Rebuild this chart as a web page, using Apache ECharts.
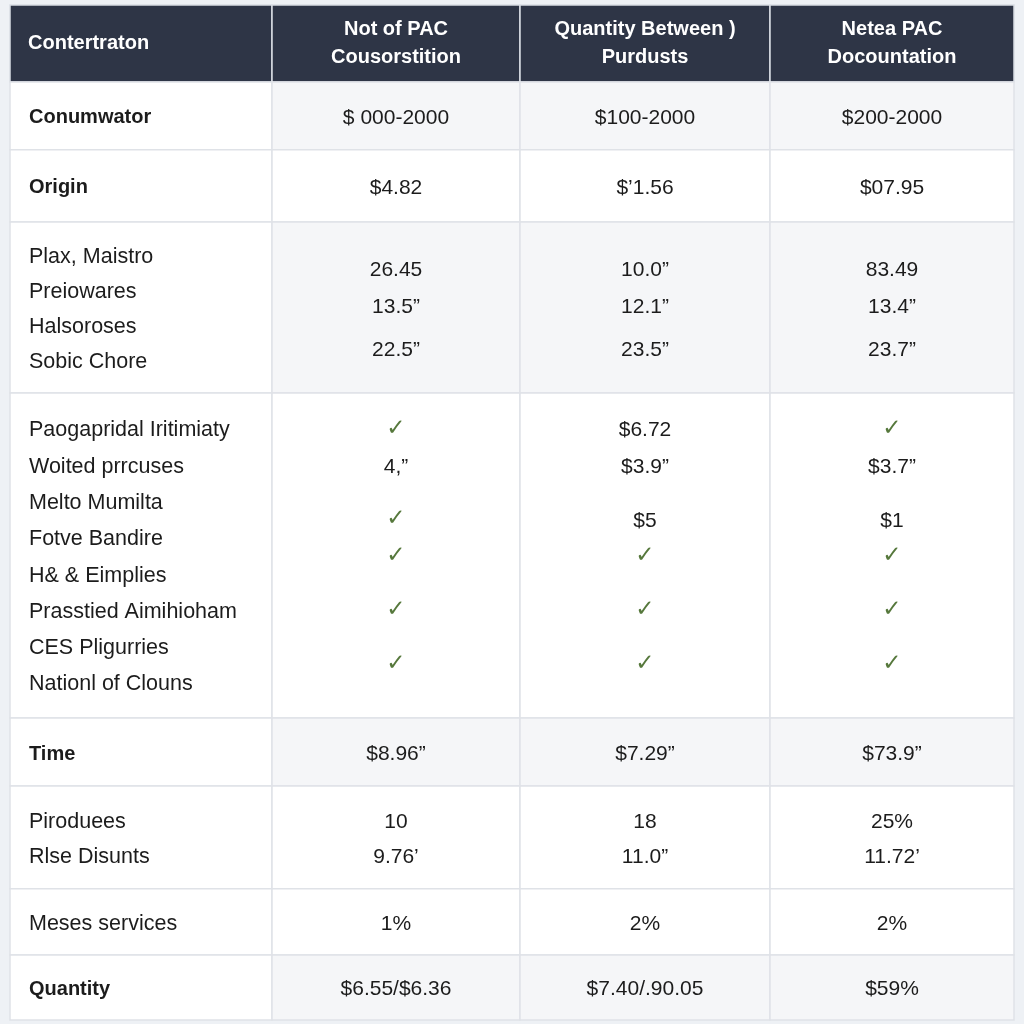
<!DOCTYPE html>
<html><head><meta charset="utf-8">
<script src="https://cdn.jsdelivr.net/npm/echarts@6/dist/echarts.min.js"></script>
<style>html,body{margin:0;padding:0;background:#eef1f5}#c{width:1024px;height:1024px}</style>
</head><body><div id="c"></div>
<script>
// ---- data ----
const headers = ["Contertraton", "Not of PAC\nCousorstition", "Quantity Between )\nPurdusts", "Netea PAC\nDocountation"];
const rowLabels = [
  ["Conumwator"],
  ["Origin"],
  ["Plax, Maistro", "Preiowares", "Halsoroses", "Sobic Chore"],
  ["Paogapridal Iritimiaty", "Woited prrcuses", "Melto Mumilta", "Fotve Bandire", "H& & Eimplies", "Prasstied Aimihioham", "CES Pligurries", "Nationl of Clouns"],
  ["Time"],
  ["Piroduees", "Rlse Disunts"],
  ["Meses services"],
  ["Quantity"]
];
const boldRows = [true, true, false, false, true, false, false, true];
const valuesNotOfPAC = [["$ 000-2000"], ["$4.82"], ["26.45", "13.5\u201D", "22.5\u201D"], ["\u2713", "4,\u201D", "\u2713", "\u2713", "\u2713", "\u2713"], ["$8.96\u201D"], ["10", "9.76\u2019"], ["1%"], ["$6.55/$6.36"]];
const valuesQuantityBetween = [["$100-2000"], ["$\u20191.56"], ["10.0\u201D", "12.1\u201D", "23.5\u201D"], ["$6.72", "$3.9\u201D", "$5", "\u2713", "\u2713", "\u2713"], ["$7.29\u201D"], ["18", "11.0\u201D"], ["2%"], ["$7.40/.90.05"]];
const valuesNeteaPAC = [["$200-2000"], ["$07.95"], ["83.49", "13.4\u201D", "23.7\u201D"], ["\u2713", "$3.7\u201D", "$1", "\u2713", "\u2713", "\u2713"], ["$73.9\u201D"], ["25%", "11.72\u2019"], ["2%"], ["$59%"]];
const columnValues = [valuesNotOfPAC, valuesQuantityBetween, valuesNeteaPAC];

// ---- layout (sizes, not data) ----
const colWidths = [262, 248, 250, 244];
const headerHeight = 2.2;
const rowHeights = [1.94, 2.06, 4.89, 9.29, 1.94, 2.94, 1.89, 1.86];
const lineStep = [1, 1, 1, 1.037, 1, 1, 1, 1];
const valueSlots = [[0], [0], [0.37, 1.43, 2.66], [0, 1, 2.5, 3.5, 5, 6.5], [0], [0, 1], [0], [0]];
const tintRows = [true, false, true, false, true, false, false, true];

const xB = [0]; colWidths.forEach(w => xB.push(xB[xB.length - 1] + w));
const yB = [0, headerHeight]; rowHeights.forEach(h => yB.push(yB[yB.length - 1] + h));

const cells = [];
for (let r = 0; r <= rowLabels.length; r++) for (let c = 0; c < 4; c++) cells.push([c, r]);

const FONT = "'Liberation Sans', Arial, Helvetica, sans-serif";
const TEXT_DY = 2;

function renderItem(params, api) {
  const c = api.value(0), r = api.value(1);
  const p0 = api.coord([xB[c], yB[r]]), p1 = api.coord([xB[c + 1], yB[r + 1]]);
  const children = [];
  const isHeader = r === 0;
  const fill = isHeader ? '#2e3546' : (c > 0 && tintRows[r - 1] ? '#f5f6f8' : '#ffffff');
  children.push({type: 'rect', shape: {x: p0[0], y: p0[1], width: p1[0] - p0[0], height: p1[1] - p0[1]},
    style: {fill: fill, stroke: isHeader ? '#d9dde4' : '#dfe2e7', lineWidth: 1.5}});
  const cx = (p0[0] + p1[0]) / 2, cy = (p0[1] + p1[1]) / 2;
  if (isHeader) {
    children.push({type: 'text', style: {text: headers[c], x: c === 0 ? p0[0] + 18 : cx, y: cy,
      align: c === 0 ? 'left' : 'center', verticalAlign: 'middle', fill: '#ffffff',
      fontSize: 20, fontWeight: 'bold', fontFamily: FONT, lineHeight: 28}});
  } else {
    const ri = r - 1;
    const n = rowLabels[ri].length;
    const centerU = (yB[r] + yB[r + 1]) / 2;
    const yAt = s => api.coord([0, centerU + (s - (n - 1) / 2) * lineStep[ri]])[1] + TEXT_DY;
    if (c === 0) {
      rowLabels[ri].forEach((t, k) => children.push({type: 'text', style: {text: t, x: p0[0] + 19, y: yAt(k),
        align: 'left', verticalAlign: 'middle', fill: '#1c1c1c', fontSize: boldRows[ri] ? 20 : 21.5,
        fontWeight: boldRows[ri] ? 'bold' : 'normal', fontFamily: FONT}}));
    } else {
      const vals = columnValues[c - 1][ri];
      vals.forEach((t, k) => {
        const isCheck = t === '\u2713';
        children.push({type: 'text', style: {text: t, x: cx, y: yAt(valueSlots[ri][k]) - (isCheck ? 2 : 0),
          align: 'center', verticalAlign: 'middle', fill: isCheck ? '#56783c' : '#1c1c1c',
          fontSize: isCheck ? 23 : 21, fontFamily: isCheck ? "'DejaVu Sans', sans-serif" : FONT}});
      });
    }
  }
  return {type: 'group', children: children};
}

const chart = echarts.init(document.getElementById('c'));
chart.setOption({
  backgroundColor: '#eef1f5',
  animation: false,
  grid: {left: 10, right: 10, top: 5, bottom: 4},
  xAxis: {type: 'value', min: 0, max: xB[xB.length - 1], show: false},
  yAxis: {type: 'value', min: 0, max: yB[yB.length - 1], inverse: true, show: false},
  series: [{type: 'custom', renderItem: renderItem, data: cells, silent: true}]
});
</script></body></html>
